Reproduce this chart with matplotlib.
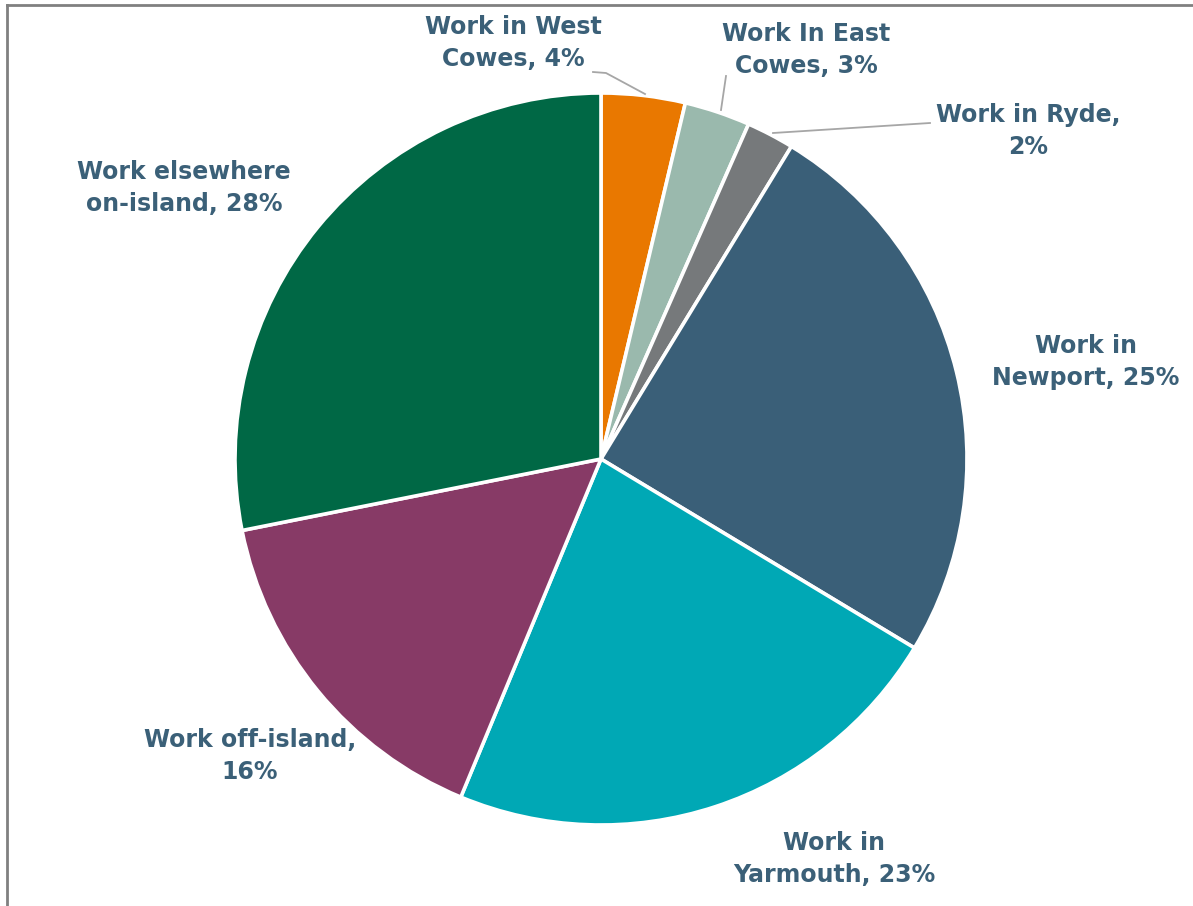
import matplotlib.pyplot as plt

labels = ["Work in West\nCowes", "Work In East\nCowes", "Work in Ryde,\n", "Work in\nNewport",
          "Work in\nYarmouth", "Work off-island,\n", "Work elsewhere\non-island"]
values = [3.7, 2.9, 2.1, 24.9, 22.6, 15.6, 28.1]
pct_text = ["4%", "3%", "2%", "25%", "23%", "16%", "28%"]
colors = ["#E97800", "#9AB9AD", "#76797B", "#3A5F78", "#00A8B5", "#873A66", "#006845"]

# label block centres in pixel coords of the reference image
label_px = [(513, 43), (806, 50), (1028, 131), (1086, 362), (834, 859), (250, 756), (184, 188)]

W, H = 1193, 906
CX, CY, R = 601, 459, 366
TXT = "#3B6078"

fig = plt.figure(figsize=(W / 100, H / 100), dpi=100)
ax = fig.add_axes([(CX - R) / W, (H - CY - R) / H, 2 * R / W, 2 * R / H])
ax.pie(values, colors=colors, startangle=90, counterclock=False, radius=1,
       wedgeprops=dict(edgecolor="white", linewidth=2.6))
ax.set_xlim(-1, 1)
ax.set_ylim(-1, 1)
ax.axis("off")


def to_data(px, py):
    return (px - CX) / R, (CY - py) / R


for lab, pct, (px, py) in zip(labels, pct_text, label_px):
    if lab.endswith("\n"):
        txt = lab + pct
    else:
        txt = lab + ", " + pct
    x, y = to_data(px, py)
    ax.text(x, y, txt, ha="center", va="center", fontsize=17, fontweight="heavy",
            color=TXT, linespacing=1.4, clip_on=False)

# leader lines for the three small slices
leaders = [
    [(593, 72), (606, 73), (645, 94)],
    [(726, 76), (721, 110)],
    [(930, 123), (773, 133)],
]
for pts in leaders:
    xs, ys = zip(*[to_data(px, py) for px, py in pts])
    ax.plot(xs, ys, color="#A6A6A6", lw=1.3, clip_on=False)

# chart frame (top and left edges visible)
fig.add_artist(plt.Line2D([7.5 / W, 7.5 / W], [0, 1 - 4.5 / H], color="#808080", lw=2,
                          transform=fig.transFigure))
fig.add_artist(plt.Line2D([7.5 / W, 1], [1 - 4.5 / H, 1 - 4.5 / H], color="#808080", lw=2,
                          transform=fig.transFigure))

fig.savefig("out.png", dpi=100)
